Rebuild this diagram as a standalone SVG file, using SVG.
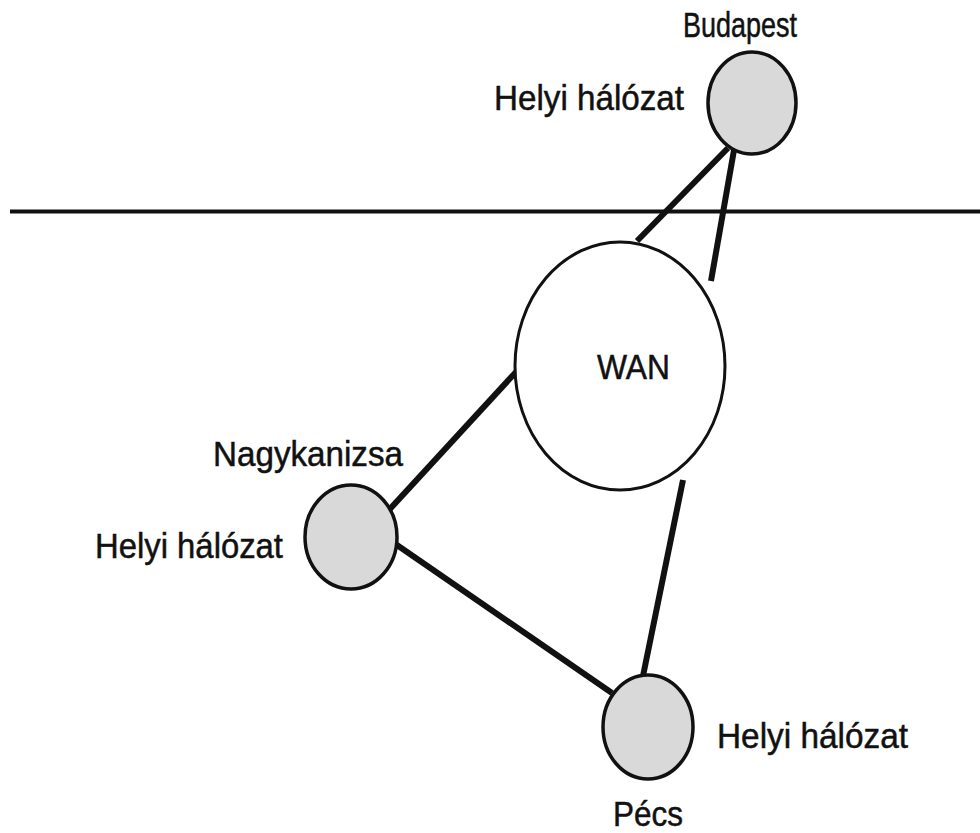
<svg xmlns="http://www.w3.org/2000/svg" width="980" height="833" viewBox="0 0 980 833">
  <style>
    .lan { fill: #d9d9d9; stroke: #111; stroke-width: 3.5; }
    .wan { fill: #fff; stroke: #111; stroke-width: 3; }
    .link { stroke: #111; stroke-width: 6; stroke-linecap: butt; fill: none; }
    .border { stroke: #111; stroke-width: 4; }
    text { font-family: "Liberation Sans", Arial, sans-serif; font-size: 35px; fill: #111; stroke: #111; stroke-width: 0.5; }
  </style>
  <rect width="980" height="833" fill="#fff"/>

  <!-- dividing line -->
  <line class="border" x1="10" y1="211.5" x2="980" y2="211.5"/>

  <!-- connectors -->
  <g id="links">
    <line class="link" x1="728" y1="148" x2="637" y2="241"/>
    <line class="link" x1="734" y1="150" x2="711" y2="281"/>
    <line class="link" x1="389" y1="510" x2="516" y2="372"/>
    <line class="link" x1="394" y1="543" x2="612" y2="693"/>
    <line class="link" x1="643" y1="676" x2="683" y2="480"/>
  </g>

  <g id="wan">
    <ellipse class="wan" cx="620" cy="366" rx="105" ry="124"/>
    <text x="597" y="379" textLength="73" lengthAdjust="spacingAndGlyphs">WAN</text>
  </g>

  <g id="budapest">
    <ellipse class="lan" cx="752" cy="103" rx="44" ry="51"/>
    <text x="683" y="37" font-size="36" textLength="114" lengthAdjust="spacingAndGlyphs">Budapest</text>
    <text x="494" y="110" textLength="190" lengthAdjust="spacingAndGlyphs">Helyi hálózat</text>
  </g>

  <g id="nagykanizsa">
    <ellipse class="lan" cx="351" cy="537" rx="46" ry="52"/>
    <text x="213" y="466" textLength="190" lengthAdjust="spacingAndGlyphs">Nagykanizsa</text>
    <text x="95" y="558" textLength="188" lengthAdjust="spacingAndGlyphs">Helyi hálózat</text>
  </g>

  <g id="pecs">
    <ellipse class="lan" cx="648" cy="727" rx="45" ry="52"/>
    <text x="717" y="748" textLength="191" lengthAdjust="spacingAndGlyphs">Helyi hálózat</text>
    <text x="613" y="826" font-size="33" textLength="70" lengthAdjust="spacingAndGlyphs">Pécs</text>
  </g>
</svg>
